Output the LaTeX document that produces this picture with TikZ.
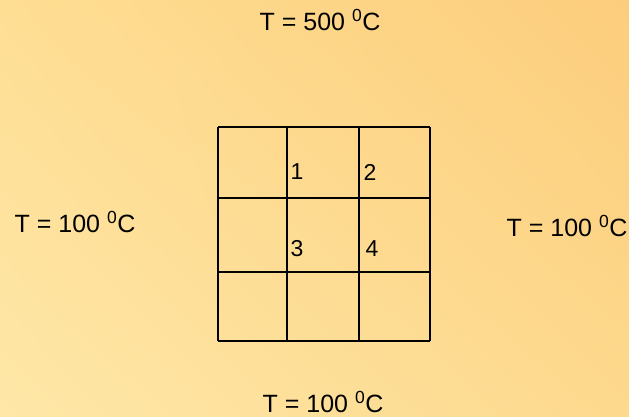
\documentclass[tikz,border=0pt]{standalone}
\usepackage{fontspec}
\setmainfont{Liberation Sans}
\usetikzlibrary{shadings}
\definecolor{bgUL}{HTML}{FEDE93}
\definecolor{bgUR}{HTML}{FCCD7C}
\definecolor{bgLL}{HTML}{FEE7A8}
\definecolor{bgLR}{HTML}{FDD98D}
\tikzset{
  gridline/.style={line width=2pt, black},
  templabel/.style={font=\fontsize{25}{28}\selectfont, inner sep=0pt, anchor=center},
  celllabel/.style={font=\fontsize{23}{25}\selectfont, inner sep=0pt, anchor=center}
}
\begin{document}
\begin{tikzpicture}[x=1pt,y=-1pt]
\shade[upper left=bgUL, upper right=bgUR, lower left=bgLL, lower right=bgLR] (0,0) rectangle (629,417);
\useasboundingbox (0,0) rectangle (629,417);
% grid
\foreach \x in {218,287,359,430} \draw[gridline] (\x,127) -- (\x,341);
\foreach \y in {127,198,272,341} \draw[gridline] (218,\y) -- (430,\y);
% cell labels
\node[celllabel] (c1) at (297,172) {1};
\node[celllabel] (c2) at (370,172) {2};
\node[celllabel] (c3) at (297,249) {3};
\node[celllabel] (c4) at (372,249) {4};
% temperatures
\node[templabel] (top) at (320,20) {T = 500 \textsuperscript{0}C};
\node[templabel] (left) at (75,222) {T = 100 \textsuperscript{0}C};
\node[templabel] (right) at (567,226) {T = 100 \textsuperscript{0}C};
\node[templabel] (bottom) at (323,402) {T = 100 \textsuperscript{0}C};
\end{tikzpicture}
\end{document}
